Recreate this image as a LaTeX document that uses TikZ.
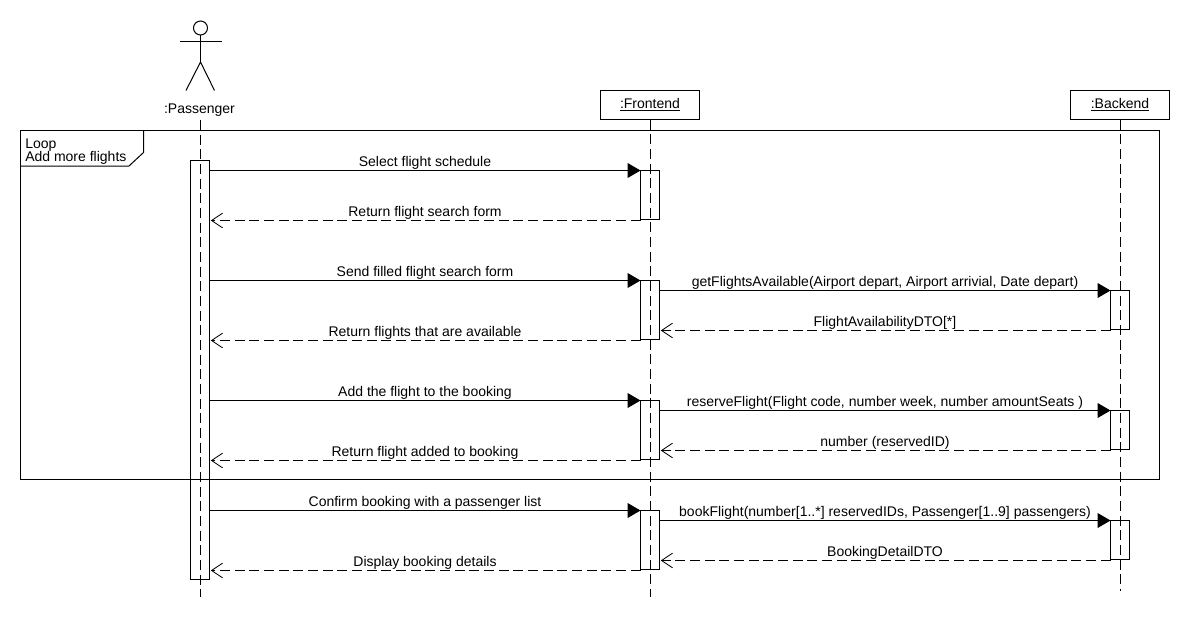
\documentclass[tikz,border=0pt]{standalone}
\usepackage{fontspec}
\setmainfont{Liberation Sans}
\usetikzlibrary{arrows.meta}
\tikzset{
  px/.style={x=0.75pt,y=-0.75pt},
  thin line/.style={line width=0.75pt,draw=black},
  headbox/.style={thin line,rectangle,inner sep=0pt,outer sep=0pt,minimum width=74.25pt,minimum height=21.75pt,font=\fontsize{10.5pt}{10.5pt}\selectfont},
  actbox/.style={thin line,rectangle,inner sep=0pt,outer sep=0pt,minimum width=14.25pt},
  lifeline/.style={thin line,dash pattern=on 7.5pt off 3.5pt},
  call/.style={thin line,-{Triangle[length=9.6pt,width=11pt]}},
  reply/.style={thin line,dash pattern=on 7.5pt off 3.5pt,shorten >=1pt,-{Straight Barb[length=8.25pt,width=11pt,line width=0.6pt]}},
  msglabel/.style={anchor=base,inner sep=0pt,yshift=2.7pt,font=\fontsize{10.5pt}{10.5pt}\selectfont},
  plaintext/.style={inner sep=0pt,font=\fontsize{10.5pt}{10.5pt}\selectfont},
}
\newcommand{\actbar}[4]{\node[actbox,minimum height={(#4-#3)*0.75pt}] (#1) at (#2,{(#3+#4)/2}) {};}
\newcommand{\msg}[5]{\draw[#1] (#2 |- 0,#4) -- node[msglabel]{#5} (#3 |- 0,#4);}
\begin{document}
\begin{tikzpicture}[px]
\fill[white] (0,0) rectangle (1190,640);
\useasboundingbox (0,0) rectangle (1190,640);
% actor
\node[thin line,draw,circle,inner sep=0pt,outer sep=0pt,minimum size=10.5pt] (head) at (200.5,28) {};
\coordinate (shl) at (179.5,41.5);
\coordinate (shr) at (221.5,41.5);
\coordinate (hip) at (200.5,62);
\coordinate (footl) at (186,90.5);
\coordinate (footr) at (214.5,90.5);
\draw[thin line] (head.south) -- (hip);
\draw[thin line] (shl) -- (shr);
\draw[thin line] (footl) -- (hip) -- (footr);
\node[plaintext,anchor=base] (pax) at (199.5,113) {:Passenger};
% heads
\node[headbox] (fe) at (650,105) {\raisebox{1pt}{\underline{:Frontend}}};
\node[headbox] (be) at (1120,105) {\raisebox{1pt}{\underline{:Backend}}};
% lifeline ends
\coordinate (pTop) at (200.5,120);
\coordinate (pEnd) at (200.5,597);
\coordinate (fEnd) at (650.5,597);
\coordinate (bEnd) at (1120.5,591);
\draw[lifeline] (pTop) -- (pEnd);
\draw[lifeline] (fe.south -| fEnd) -- (fEnd);
\draw[lifeline] (be.south -| bEnd) -- (bEnd);
% activations
\actbar{pa}{200}{160.5}{579.5}
\actbar{fa}{650}{170.5}{219.5}
\actbar{fb}{650}{280.5}{339.5}
\actbar{fc}{650}{400.5}{459.5}
\actbar{fd}{650}{510.5}{569.5}
\actbar{ba}{1120}{290.5}{329.5}
\actbar{bb}{1120}{410.5}{449.5}
\actbar{bc}{1120}{520.5}{559.5}
% frame
\coordinate (frTL) at (20.5,130.5);
\coordinate (frBR) at (1159.5,479.5);
\draw[thin line] (frTL) rectangle (frBR);
\coordinate (tagA) at (143.5,130.5);
\coordinate (tagB) at (143.5,152.5);
\coordinate (tagC) at (129,166);
\coordinate (tagD) at (20.5,166);
\draw[thin line] (tagA) -- (tagB) -- (tagC) -- (tagD);
\node[plaintext,anchor=base west] (tagl1) at (25,148) {Loop};
\node[plaintext,anchor=base west] (tagl2) at (25,161) {Add more flights};
% messages
\msg{call}{pa.east}{fa.west}{170.5}{Select flight schedule}
\msg{reply}{fa.west}{pa.east}{220.5}{Return flight search form}
\msg{call}{pa.east}{fb.west}{280.5}{Send filled flight search form}
\msg{call}{fb.east}{ba.west}{290.5}{getFlightsAvailable(Airport depart, Airport arrivial, Date depart)}
\msg{reply}{ba.west}{fb.east}{330.5}{FlightAvailabilityDTO[*]}
\msg{reply}{fb.west}{pa.east}{340.5}{Return flights that are available}
\msg{call}{pa.east}{fc.west}{400.5}{Add the flight to the booking}
\msg{call}{fc.east}{bb.west}{410.5}{reserveFlight(Flight code, number week, number amountSeats )}
\msg{reply}{bb.west}{fc.east}{450.5}{number (reservedID)}
\msg{reply}{fc.west}{pa.east}{460.5}{Return flight added to booking}
\msg{call}{pa.east}{fd.west}{510.5}{Confirm booking with a passenger list}
\msg{call}{fd.east}{bc.west}{520.5}{bookFlight(number[1..*] reservedIDs, Passenger[1..9] passengers)}
\msg{reply}{bc.west}{fd.east}{560.5}{BookingDetailDTO}
\msg{reply}{fd.west}{pa.east}{570.5}{Display booking details}
\end{tikzpicture}
\end{document}
